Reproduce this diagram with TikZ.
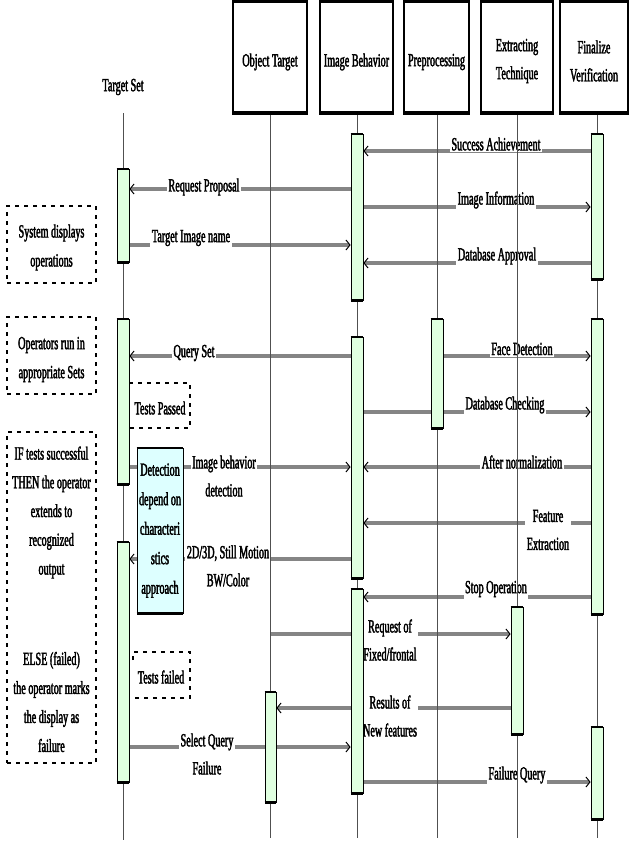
\documentclass[tikz,border=0pt]{standalone}
\usepackage{fontspec}
\setmainfont{Liberation Serif}
\newfontfamily\cond[FakeStretch=0.55,FakeBold=2]{Liberation Serif}
\usetikzlibrary{arrows.meta}
\pgfdeclarelayer{paper}
\pgfdeclarelayer{bg}
\pgfdeclarelayer{mid}
\pgfsetlayers{paper,bg,mid,main}
\definecolor{barfill}{HTML}{E0FFE0}
\definecolor{detfill}{HTML}{DDFFFF}
\definecolor{msgcol}{HTML}{858585}
\definecolor{lifecol}{HTML}{505050}
\tikzset{
  txt/.style={font=\cond\fontsize{18.5}{28}\selectfont, align=center, inner sep=1pt},
  lbl/.style={txt, fill=white, inner sep=1.5pt},
  msgtip/.tip={Straight Barb[color=black,line width=1pt,length=4pt,width=10pt]},
  msg/.style={arrows={-msgtip}, draw=msgcol, line width=3.5pt},
  life/.style={draw=lifecol, line width=1pt},
  headbox/.style={draw=black, line width=1.6pt, inner sep=0pt},
  actbox/.style={draw=black, fill=barfill, line width=0.8pt, minimum width=12pt, inner sep=0pt},
  notebox/.style={draw=black, line width=1.1pt, dash pattern=on 4pt off 5pt, inner sep=0pt},
  thickedge/.style={line width=2.2pt},
  headedge/.style={line width=3.5pt}
}
\newcommand\actbar[4]{%
  \node[actbox, minimum height=#4] (#1) at (#2,#3) {};
  \draw[thickedge] (#1.north west) -- (#1.north east) (#1.south west) -- (#1.south east);}
\newcommand\headbox[5]{%
  \node[headbox, minimum width=#3, minimum height=110pt] (#1) at (#2,57) {};
  \draw[headedge] (#1.north west) -- (#1.north east) (#1.south west) -- (#1.south east);
  \node[txt] (#1t) at (#2,#4) {#5};}
\begin{document}
\begin{tikzpicture}[x=1pt,y=-1pt]
\useasboundingbox (0,0) rectangle (629,841);
\begin{pgfonlayer}{paper}
\fill[white] (0,0) rectangle (629,841);
\end{pgfonlayer}

% headers
\node[txt] (tsh) at (123,87) {Target Set};
\headbox{oth}{270}{74pt}{62}{Object Target}
\headbox{ibh}{356.5}{73pt}{62}{Image Behavior}
\headbox{pph}{436.5}{65pt}{62}{Preprocessing}
\headbox{eth}{517}{72pt}{61}{Extracting\\Technique}
\headbox{fvh}{594}{68pt}{61}{Finalize\\Verification}

% lifeline ends
\coordinate (tsA) at (123,113); \coordinate (tsB) at (123,840);
\coordinate (otA) at (270,112); \coordinate (otB) at (270,838);
\coordinate (ibA) at (357,112); \coordinate (ibB) at (357,838);
\coordinate (ppA) at (437,112); \coordinate (ppB) at (437,838);
\coordinate (etA) at (517,112); \coordinate (etB) at (517,838);
\coordinate (fvA) at (597,112); \coordinate (fvB) at (597,838);
\begin{pgfonlayer}{mid}
\foreach \l in {ts,ot,ib,pp,et,fv} \draw[life] (\l A) -- (\l B);
\end{pgfonlayer}

% activation bars
\actbar{ts1}{123}{215.5}{93pt}
\actbar{ts2}{123}{401.5}{165pt}
\actbar{ts3}{123}{662}{240pt}
\actbar{ib1}{357}{217}{166pt}
\actbar{ib2}{357}{457.5}{241pt}
\actbar{ib3}{357}{691}{204pt}
\actbar{pp1}{437}{373.5}{109pt}
\actbar{et1}{517}{670.5}{127pt}
\actbar{fv1}{597}{206.5}{145pt}
\actbar{fv2}{597}{466.5}{295pt}
\actbar{fv3}{597}{773}{92pt}
\node[actbox, minimum width=11pt, minimum height=110pt] (ot1) at (270.5,747) {};
\draw[thickedge] (ot1.north west) -- (ot1.north east) (ot1.south west) -- (ot1.south east);

% detection box
\node[draw=black, fill=detfill, line width=0.8pt, minimum width=46pt, minimum height=165pt, inner sep=0pt,
      font=\cond\fontsize{18.5}{29.5}\selectfont, align=center] (det) at (160,530.5)
      {Detection\\depend on\\characteri\\stics\\approach};
\draw[thickedge] (det.north west) -- (det.north east) (det.south west) -- (det.south east);

% left notes
\node[notebox, minimum width=89pt, minimum height=77pt] (n1) at (51.5,244.5) {};
\node[txt, font=\cond\fontsize{18.5}{29}\selectfont] (n1t) at (51.5,247.5) {System displays\\operations};
\node[notebox, minimum width=89pt, minimum height=77pt] (n2) at (51.5,355.5) {};
\node[txt, font=\cond\fontsize{18.5}{29}\selectfont] (n2t) at (51.5,359.5) {Operators run in\\appropriate Sets};
\node[notebox, minimum width=89pt, minimum height=331pt] (n3) at (51.5,597.5) {};
\node[txt, font=\cond\fontsize{18.5}{28.75}\selectfont] (n3a) at (51.5,512.5)
  {IF tests successful\\THEN the operator\\extends to\\recognized\\output};
\node[txt, font=\cond\fontsize{18.5}{29}\selectfont] (n3b) at (51.5,702)
  {ELSE (failed)\\the operator marks\\the display as\\failure};

% tests notes
\draw[notebox] (ts2.east |- 0,383) -- (190,383) -- (190,428) -- (ts2.east |- 0,428);
\node[txt] (tp) at (160,408) {Tests Passed};
\draw[notebox] (133,660) -- (133,652) -- (190,652) -- (190,698) -- (135,698);
\node[txt] (tf) at (161,677) {Tests failed};

% messages
\begin{pgfonlayer}{bg}
\draw[msg] (fv1.west |- 0,151) -- (ib1.east |- 0,151);
\draw[msg] (ib1.west |- 0,189) -- (ts1.east |- 0,189);
\draw[msg] (ib1.east |- 0,207) -- (fv1.west |- 0,207);
\draw[msg] (ts1.east |- 0,245) -- (ib1.west |- 0,245);
\draw[msg] (fv1.west |- 0,263) -- (ib1.east |- 0,263);
\draw[msg] (ib2.west |- 0,356) -- (ts2.east |- 0,356);
\draw[msg] (pp1.east |- 0,356) -- (fv2.west |- 0,356);
\draw[msg] (ib2.east |- 0,412) -- (fv2.west |- 0,412);
\draw[msg] (fv2.west |- 0,467) -- (ib2.east |- 0,467);
\draw[msg] (ts2.east |- 0,467) -- (ib2.west |- 0,467);
\draw[msg] (fv2.west |- 0,523) -- (ib2.east |- 0,523);
\draw[msg] (ib2.west |- 0,559) -- (ts3.east |- 0,559);
\draw[msg] (fv2.west |- 0,597) -- (ib3.east |- 0,597);
\draw[msg] (oth.south |- 0,634) -- (et1.west |- 0,634);
\draw[msg] (et1.west |- 0,708) -- (ot1.east |- 0,708);
\draw[msg] (ts3.east |- 0,747) -- (ib3.west |- 0,747);
\draw[msg] (ib3.east |- 0,782) -- (fv3.west |- 0,782);

\node[lbl] (m1) at (496,144) {Success Achievement};
\node[lbl] (m2) at (204,187) {Request Proposal};
\node[lbl] (m3) at (496,200) {Image Information};
\node[lbl] (m4) at (191,238) {Target Image name};
\node[lbl] (m5) at (497,256) {Database Approval};
\node[lbl] (m6) at (194,353) {Query Set};
\node[lbl] (m7) at (522,349) {Face Detection};
\node[lbl] (m8) at (505,405) {Database Checking};
\node[lbl] (m9) at (522,462) {After normalization};
\node[lbl] (m10) at (224,476) {Image behavior\\detection};
\node[lbl] (m11) at (548,530) {Feature\\Extraction};
\node[lbl] (m12) at (228,566) {2D/3D, Still Motion\\BW/Color};
\node[lbl] (m13) at (496,589) {Stop Operation};
\node[lbl] (m14) at (390,640) {Request of\\Fixed/frontal};
\node[lbl] (m15) at (390,716) {Results of\\New features};
\node[lbl] (m16) at (207,754) {Select Query\\Failure};
\node[lbl] (m17) at (517,775) {Failure Query};
\end{pgfonlayer}
\end{tikzpicture}
\end{document}
